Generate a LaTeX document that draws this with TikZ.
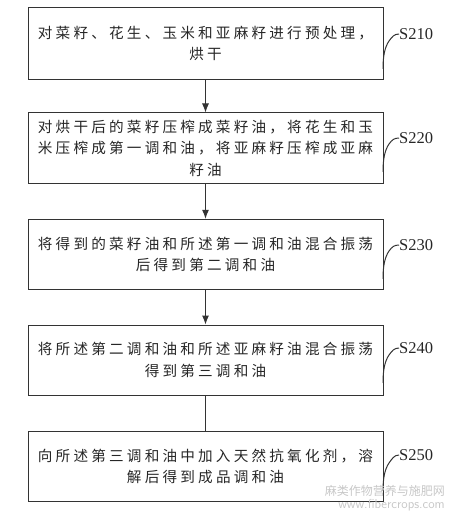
\documentclass[tikz,border=0pt]{standalone}
\usepackage{fontspec}
\setmainfont{Liberation Serif}
\newfontfamily\cjk[LetterSpace=22]{Noto Sans CJK SC}
\newfontfamily\cjkplain{Noto Sans CJK SC}
\usetikzlibrary{arrows.meta,calc}
\tikzset{
  stepbox/.style={draw=black!80, line width=1pt, minimum width=355pt, minimum height=70pt,
    inner sep=0pt, align=center, font=\cjk\fontsize{14.6}{21.5}\selectfont, text=black!85},
  flow/.style={draw=black!80, line width=1pt, -{Latex[length=9pt,width=7pt]}},
  plainflow/.style={draw=black!80, line width=1pt},
  lbl/.style={anchor=west, inner sep=0pt, font=\fontsize{16.5}{18}\selectfont, text=black!85},
  lead/.style={draw=black!80, line width=1pt},
  wm/.style={inner sep=0pt, text=black!22}
}
\newcommand{\leadline}[2]{\draw[lead] (#1) .. controls ($(#1)+(0,-14)$) and ($(#1)+(2,-22)$) .. ($(#1)+(6,-28)$) .. controls ($(#1)+(9,-32)$) and ($(#2.west)+(-5,0)$) .. (#2.west);}
\begin{document}
\begin{tikzpicture}[x=1pt,y=-1pt]
\useasboundingbox (0,0) rectangle (451,516);
\node[stepbox, minimum height=72pt] (b1) at (205.5,43.2) {对菜籽、花生、玉米和亚麻籽进行预处理，\\烘干};
\node[stepbox] (b2) at (205.5,148) {对烘干后的菜籽压榨成菜籽油，将花生和玉\\米压榨成第一调和油，将亚麻籽压榨成亚麻\\籽油};
\node[stepbox] (b3) at (205.5,254.3) {将得到的菜籽油和所述第一调和油混合振荡\\后得到第二调和油};
\node[stepbox] (b4) at (205.5,360) {将所述第二调和油和所述亚麻籽油混合振荡\\得到第三调和油};
\node[stepbox] (b5) at (205.5,466.2) {向所述第三调和油中加入天然抗氧化剂，溶\\解后得到成品调和油};
\draw[flow] (b1) -- (b2);
\draw[flow] (b2) -- (b3);
\draw[flow] (b3) -- (b4);
\draw[plainflow] (b4) -- (b5);
\node[lbl] (l1) at (399,34) {S210};
\node[lbl] (l2) at (399,138) {S220};
\node[lbl] (l3) at (399,245) {S230};
\node[lbl] (l4) at (399,348) {S240};
\node[lbl] (l5) at (399,455) {S250};
\coordinate (c1) at (383,69);
\coordinate (c2) at (383,172);
\coordinate (c3) at (383,279);
\coordinate (c4) at (383,383);
\coordinate (c5) at (383,491);
\leadline{c1}{l1}
\leadline{c2}{l2}
\leadline{c3}{l3}
\leadline{c4}{l4}
\leadline{c5}{l5}
\node[wm, anchor=east, font=\cjkplain\fontsize{12}{12}\selectfont] (w1) at (445,491) {麻类作物营养与施肥网};
\node[wm, anchor=east, font=\sffamily\fontsize{13}{13}\selectfont] (w2) at (445,505) {www.fibercrops.com};
\end{tikzpicture}
\end{document}
